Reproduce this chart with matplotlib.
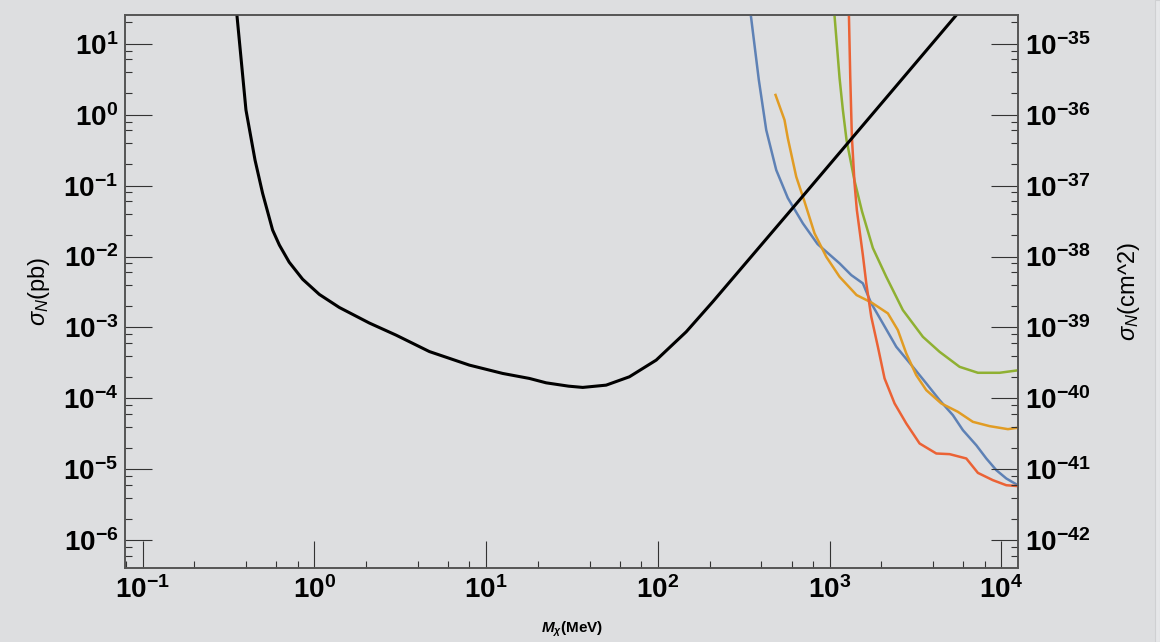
import matplotlib
matplotlib.use('Agg')
import matplotlib.pyplot as plt
from matplotlib.ticker import FixedLocator, FuncFormatter, NullFormatter
from matplotlib.patches import Rectangle
import numpy as np

plt.rcParams['font.family'] = ['Liberation Sans', 'DejaVu Sans']
plt.rcParams['mathtext.fontset'] = 'custom'
plt.rcParams['mathtext.rm'] = 'Liberation Sans'
plt.rcParams['mathtext.it'] = 'Liberation Sans:italic'
plt.rcParams['mathtext.bf'] = 'Liberation Sans:bold'
plt.rcParams['mathtext.bfit'] = 'Liberation Sans:italic:bold'

# black curve: mass (MeV) and cross section (pb)
black_m = [0.352, 0.400, 0.4516, 0.500, 0.5717, 0.626, 0.714, 0.855, 1.069, 1.398, 2.091,
           2.991, 4.675, 7.99, 12.5, 17.87, 22.37, 30.2, 36.52, 50.0, 68.3, 97.8,
           146.2, 208.9, 667.7, 2443, 5580]
black_s = [30, 1.165, 0.2297, 0.0779, 0.02365, 0.01453, 0.00833, 0.00479, 0.002929, 0.001916, 0.001156,
           7.81e-4, 4.58e-4, 2.95e-4, 2.25e-4, 1.914e-4, 1.66e-4, 1.49e-4, 1.43e-4, 1.54e-4, 2.02e-4, 3.47e-4,
           8.69e-4, 2.31e-3, 0.0626, 2.54, 26.9]

blue_m = [341.7, 387.0, 427.4, 488.7, 570.9, 698.3, 850.3, 1142, 1336, 1561, 1747, 2041,
          2443, 3051, 3652, 4366, 5218, 5969, 7141, 8167, 9340, 10680, 12470]
blue_s = [35.3, 3.086, 0.6085, 0.166, 0.0668, 0.02939, 0.015, 0.00802, 0.00548, 0.00419,
          0.002188, 0.001142, 5.35e-4, 2.79e-4, 1.63e-4, 9.47e-5, 5.81e-5, 3.57e-5, 2.19e-5,
          1.425e-5, 9.75e-6, 7.44e-6, 5.98e-6]

orange_m = [484.1, 546.1, 570.9, 639.0, 714.3, 816.6, 955.5, 1142, 1435, 1754, 2183, 2495,
            2793, 3193, 3652, 4467, 5580, 6822, 8535, 10910, 12760]
orange_s = [1.896, 0.8417, 0.4645, 0.1335, 0.05929, 0.02125, 0.00993, 0.00519, 0.002864,
            0.002245, 0.001581, 9.19e-4, 4.31e-4, 2.13e-4, 1.31e-4, 8.5e-5, 6.48e-5, 4.68e-5,
            4.07e-5, 3.69e-5, 3.9e-5]

green_m = [1061, 1142, 1194, 1254, 1397, 1544, 1785, 2136, 2669, 3490, 4366, 5708, 7295, 9761, 12760]
green_s = [30.0, 3.293, 1.165, 0.4395, 0.1161, 0.04313, 0.01318, 0.00519, 0.001759, 7.39e-4,
           4.54e-4, 2.79e-4, 2.3e-4, 2.3e-4, 2.51e-4]

red_m = [1293, 1318, 1347, 1396, 1440, 1561, 1634, 1747, 1909, 2088, 2388, 2793, 3339, 4177,
         4993, 6246, 7295, 8914, 10680, 12760]
red_s = [30, 3.435, 0.4894, 0.1077, 0.0453, 0.0105, 0.00419, 0.001416, 5.35e-4, 1.915e-4,
         8.5e-5, 4.44e-5, 2.32e-5, 1.675e-5, 1.64e-5, 1.425e-5, 8.93e-6, 7.05e-6, 5.98e-6, 5.79e-6]

x_ticks = [1e-1, 1e0, 1e1, 1e2, 1e3, 1e4]
y_ticks = [1e-6, 1e-5, 1e-4, 1e-3, 1e-2, 1e-1, 1e0, 1e1]
cm2_ticks = [1e-42, 1e-41, 1e-40, 1e-39, 1e-38, 1e-37, 1e-36, 1e-35]

xlim = (0.0791, 1.257e4)
ylim = (10**-6.386, 10**1.398)
pb_to_cm2 = 1e-36

bg = '#dddee0'
fig = plt.figure(figsize=(11.6, 6.42), dpi=100, facecolor=bg)
ax = fig.add_axes([0.1078, 0.1157, 0.7702, 0.8602], facecolor=bg)

ax.plot(blue_m, blue_s, color='#5e81b5', lw=1.8, zorder=3)
ax.plot(orange_m, orange_s, color='#e19c24', lw=1.8, zorder=3)
ax.plot(green_m, green_s, color='#8fb032', lw=1.8, zorder=3)
ax.plot(red_m, red_s, color='#eb6235', lw=1.8, zorder=3)
ax.plot(black_m, black_s, color='black', lw=2.2, zorder=4, solid_joinstyle='round')

ax.set_xscale('log')
ax.set_yscale('log')
ax.set_xlim(*xlim)
ax.set_ylim(*ylim)

ax2 = ax.twinx()
ax2.set_yscale('log')
ax2.set_ylim(ylim[0] * pb_to_cm2, ylim[1] * pb_to_cm2)


def minors(lo, hi):
    out = []
    for e in range(int(np.floor(np.log10(lo))), int(np.ceil(np.log10(hi))) + 1):
        for s in (2, 4, 6, 8):
            v = s * 10.0**e
            if lo <= v <= hi:
                out.append(v)
    return out


fmt = FuncFormatter(lambda v, p: r'$\mathbf{10^{%d}}$' % int(round(np.log10(v))))
for a, major, lims in ((ax.xaxis, x_ticks, xlim), (ax.yaxis, y_ticks, ylim),
                       (ax2.yaxis, cm2_ticks, (ylim[0] * pb_to_cm2, ylim[1] * pb_to_cm2))):
    a.set_major_locator(FixedLocator(major))
    a.set_minor_locator(FixedLocator(minors(*lims)))
    a.set_major_formatter(fmt)
    a.set_minor_formatter(NullFormatter())

ax.tick_params(axis='both', which='major', direction='in', length=19.5, width=0.8,
               color='#333333', labelsize=20)
ax.tick_params(axis='both', which='minor', direction='in', length=5, width=0.8, color='#333333')
ax.tick_params(axis='y', which='both', right=False, pad=5)
ax.tick_params(axis='x', which='both', top=False, pad=6)
ax2.tick_params(axis='y', which='major', direction='in', length=19.5, width=0.8,
                color='#333333', labelsize=20, pad=5)
ax2.tick_params(axis='y', which='minor', direction='in', length=5, width=0.8, color='#333333')

for a in (ax, ax2):
    for s in a.spines.values():
        s.set_color('#555555')
        s.set_linewidth(1.2)

fig.text(39 / 1160, 1 - 291.6 / 642, r'$\sigma_N$(pb)', rotation=90, ha='center', va='center',
         fontsize=17)
fig.text(1129 / 1160, 1 - 291.6 / 642, r'$\sigma_N$(cm^2)', rotation=90, ha='center', va='center',
         fontsize=17)
fig.text(572 / 1160, 1 - 629 / 642, r'$\mathbfit{M_\chi}$(MeV)', ha='center', va='center',
         fontsize=11, fontweight='bold')

fig.patches.append(Rectangle((1155 / 1160, 0), 5 / 1160, 1, transform=fig.transFigure,
                             facecolor='#e6e7e9', edgecolor='#cfd0d2', lw=0.8, zorder=0))

fig.savefig('out.png', dpi=100, facecolor=bg)
